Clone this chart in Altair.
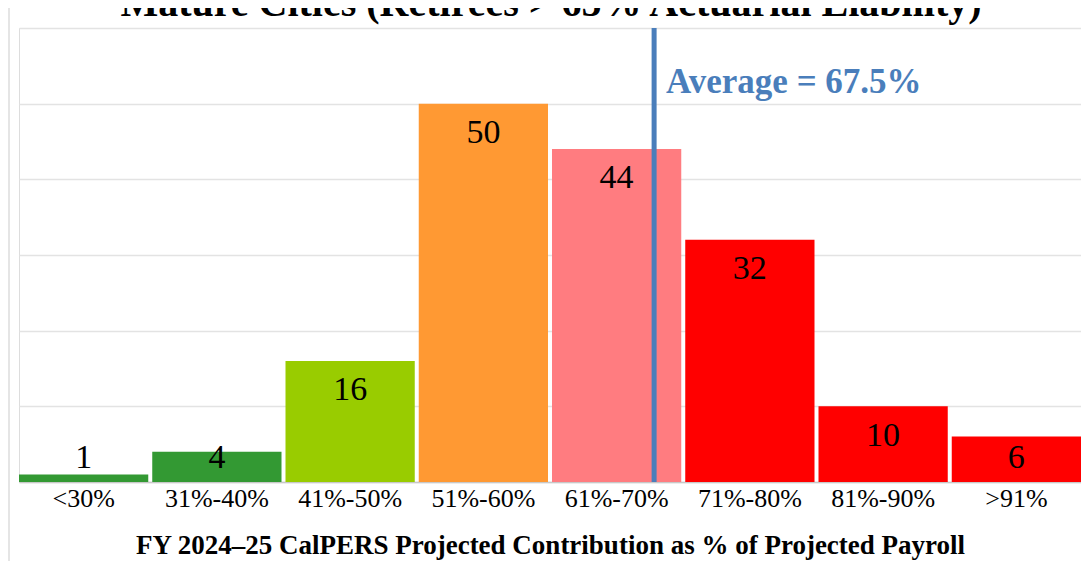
import altair as alt
import pandas as pd

categories = ["<30%", "31%-40%", "41%-50%", "51%-60%", "61%-70%", "71%-80%", "81%-90%", ">91%"]
counts = [1, 4, 16, 50, 44, 32, 10, 6]
bar_colors = ["#339933", "#339933", "#99CC00", "#FF9933", "#FF7C80", "#FF0000", "#FF0000", "#FF0000"]

title_text = "Mature Cities (Retirees > 65% Actuarial Liability)"
x_title = "FY 2024\u201325 CalPERS Projected Contribution as % of Projected Payroll"
avg_category = "61%-70%"
avg_label = "Average = 67.5%"
avg_band_position = 0.79

df = pd.DataFrame({"range": categories, "count": counts})

SERIF = "Liberation Serif"

x_enc = alt.X(
    "range:N",
    sort=categories,
    scale=alt.Scale(domain=categories, paddingInner=0.03, paddingOuter=0.0),
    axis=alt.Axis(
        title=x_title,
        labelAngle=0,
        labelFont=SERIF,
        labelFontSize=26,
        labelColor="black",
        labelPadding=3,
        ticks=False,
        domainColor="#c8c8c8",
        domainWidth=1.5,
        titleFont=SERIF,
        titleFontSize=27,
        titleFontWeight="bold",
        titleColor="black",
        titlePadding=21,
    ),
)

y_scale = alt.Scale(domain=[0, 60], nice=False)

bars = alt.Chart(df).mark_bar().encode(
    x=x_enc,
    y=alt.Y(
        "count:Q",
        scale=y_scale,
        axis=alt.Axis(
            title=None,
            labels=False,
            ticks=False,
            domain=False,
            grid=True,
            gridColor="#e3e3e3",
            gridWidth=1.5,
            values=[0, 10, 20, 30, 40, 50, 60],
        ),
    ),
    color=alt.Color(
        "range:N",
        scale=alt.Scale(domain=categories, range=bar_colors),
        legend=None,
    ),
)

labels = alt.Chart(df).transform_calculate(
    label_y="max(datum.count - 5.2, 1.85)"
).mark_text(
    font=SERIF, fontSize=34, color="black", baseline="alphabetic", align="center"
).encode(
    x=alt.X("range:N", sort=categories),
    y=alt.Y("label_y:Q", scale=y_scale),
    text=alt.Text("count:Q"),
)

avg_df = pd.DataFrame({"range": [avg_category], "label": [avg_label]})

avg_rule = alt.Chart(avg_df).mark_rule(color="#4A7EBB", strokeWidth=5).encode(
    x=alt.X("range:N", sort=categories, bandPosition=avg_band_position),
    y=alt.datum(0, scale=y_scale),
    y2=alt.datum(60),
)

avg_text = alt.Chart(avg_df).mark_text(
    font=SERIF, fontSize=35, fontWeight="bold", color="#4A7EBB",
    align="left", baseline="alphabetic", dx=12,
).encode(
    x=alt.X("range:N", sort=categories, bandPosition=avg_band_position),
    y=alt.datum(51.4, scale=y_scale),
    text="label:N",
)

title_df = pd.DataFrame({"t": [title_text]})
title_mark = alt.Chart(title_df).mark_text(
    font=SERIF, fontSize=40, fontWeight="bold", color="black",
    align="center", baseline="alphabetic",
).encode(
    x=alt.value(532),
    y=alt.value(-12),
    text="t:N",
)

frame = alt.Chart(title_df).mark_rule(color="#dcdcdc", strokeWidth=1.5).encode(
    x=alt.value(-10),
    y=alt.value(-20),
    y2=alt.value(540),
)

chart = alt.layer(bars, labels, avg_rule, avg_text, title_mark, frame).properties(
    width=1062,
    height=454,
    padding={"left": 11, "top": 20, "right": 0, "bottom": 79},
    autosize=alt.AutoSizeParams(type="none"),
).configure_view(stroke=None).configure(background="white")

chart.save("out.html", embed_options={"renderer": "svg", "actions": False})
